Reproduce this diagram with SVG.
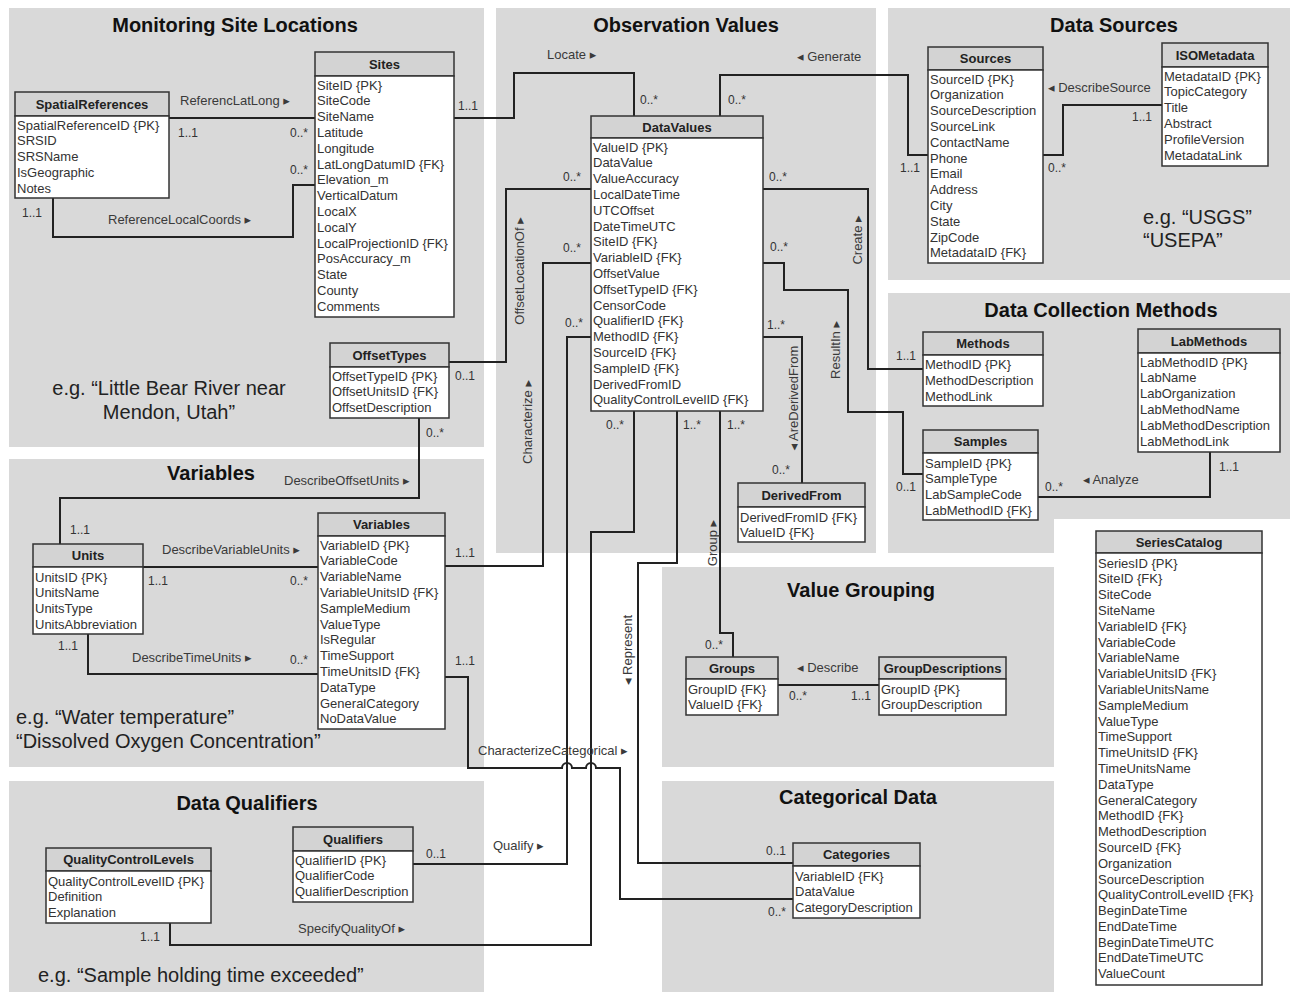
<svg xmlns="http://www.w3.org/2000/svg" width="1290" height="992" viewBox="0 0 1290 992">
<style>
.panel{fill:#d9d9d9}
.hd{fill:#d3d3d3;stroke:#333;stroke-width:1.5}
.bd{fill:#fff;stroke:#333;stroke-width:1.5}
.ht{font-family:'Liberation Sans','DejaVu Sans',Arial,sans-serif;font-weight:bold;font-size:13px;fill:#222;text-anchor:middle}
.at{font-family:'Liberation Sans','DejaVu Sans',Arial,sans-serif;font-size:13px;fill:#333}
.rl{font-family:'Liberation Sans','DejaVu Sans',Arial,sans-serif;font-size:13px;fill:#3a3a3a}
.rv{font-family:'Liberation Sans','DejaVu Sans',Arial,sans-serif;font-size:13px;fill:#3a3a3a;text-anchor:middle}
.m{font-family:'Liberation Sans','DejaVu Sans',Arial,sans-serif;font-size:12px;fill:#333}
.ttl{font-family:'Liberation Sans','DejaVu Sans',Arial,sans-serif;font-weight:bold;font-size:20px;fill:#111;text-anchor:middle}
.eg{font-family:'Liberation Sans','DejaVu Sans',Arial,sans-serif;font-size:20px;fill:#222}
.cn{fill:none;stroke:#222;stroke-width:2}
</style>
<rect width="1290" height="992" fill="#fff"/>
<g id="panels">
<rect class="panel" x="9" y="8" width="475" height="439"/>
<rect class="panel" x="496" y="8" width="380" height="545"/>
<rect class="panel" x="888" y="8" width="402" height="272"/>
<path class="panel" d="M888,293 H1290 V519 H1054 V553 H888 Z"/>
<rect class="panel" x="9" y="459" width="475" height="308"/>
<rect class="panel" x="662" y="567" width="392" height="200"/>
<rect class="panel" x="9" y="781" width="475" height="211"/>
<rect class="panel" x="662" y="781" width="392" height="211"/>
<text class="ttl" x="235" y="32">Monitoring Site Locations</text>
<text class="ttl" x="686" y="32">Observation Values</text>
<text class="ttl" x="1114" y="32">Data Sources</text>
<text class="ttl" x="1101" y="317">Data Collection Methods</text>
<text class="ttl" x="211" y="480">Variables</text>
<text class="ttl" x="861" y="597">Value Grouping</text>
<text class="ttl" x="247" y="810">Data Qualifiers</text>
<text class="ttl" x="858" y="804">Categorical Data</text>
<text class="eg" x="1143" y="224">e.g. “USGS”</text>
<text class="eg" x="1143" y="247">“USEPA”</text>
<text class="eg" x="169" y="395" text-anchor="middle">e.g. “Little Bear River near</text>
<text class="eg" x="169" y="419" text-anchor="middle">Mendon, Utah”</text>
<text class="eg" x="16" y="724">e.g. “Water temperature”</text>
<text class="eg" x="16" y="748">“Dissolved Oxygen Concentration”</text>
<text class="eg" x="38" y="982">e.g. “Sample holding time exceeded”</text>
</g>
<g id="connectors">
<path class="cn" d="M169,118 H315"/>
<path class="cn" d="M53,198 V237 H293 V185 H315"/>
<path class="cn" d="M454,118 H514 V73 H634 V116"/>
<path class="cn" d="M720,116 V75 H908 V155 H928"/>
<path class="cn" d="M1043,155 H1063 V105 H1162"/>
<path class="cn" d="M763,189 H868 V369 H923"/>
<path class="cn" d="M763,263 H784 V290 H848 V412 H903 V474 H923"/>
<path class="cn" d="M1038,497 H1210 V452"/>
<path class="cn" d="M449,362 H506 V189 H591"/>
<path class="cn" d="M591,263 H543 V566 H445"/>
<path class="cn" d="M419,418 V498 H60 V544"/>
<path class="cn" d="M143,567 H318"/>
<path class="cn" d="M88,634 V674 H318"/>
<path class="cn" d="M763,337 H802 V483"/>
<path class="cn" d="M720,411 V633 H733 V657"/>
<path class="cn" d="M778,685 H879"/>
<path class="cn" d="M677,411 V563 H638 V863 H793"/>
<path class="cn" d="M591,337 H567 V864 H413"/>
<path class="cn" d="M634,411 V532 H591 V945 H170 V923"/>
<path class="cn" d="M445,677 H468 V768 H562 A5,5 0 0 1 572,768 H586 A5,5 0 0 1 596,768 H620 V899 H793"/>
<text class="rl" x="180" y="104.5">ReferencLatLong ▸</text>
<text class="rl" x="108" y="223.5">ReferenceLocalCoords ▸</text>
<text class="rl" x="547" y="58.5">Locate ▸</text>
<text class="rl" x="797" y="60.5">◂ Generate</text>
<text class="rl" x="1048" y="91.5">◂ DescribeSource</text>
<text class="rl" x="1083" y="483.5">◂ Analyze</text>
<text class="rl" x="284" y="484.5">DescribeOffsetUnits ▸</text>
<text class="rl" x="162" y="553.5">DescribeVariableUnits ▸</text>
<text class="rl" x="132" y="661.5">DescribeTimeUnits ▸</text>
<text class="rl" x="797" y="671.5">◂ Describe</text>
<text class="rl" x="493" y="849.5">Qualify ▸</text>
<text class="rl" x="298" y="932.5">SpecifyQualityOf ▸</text>
<text class="rl" x="478" y="754.5">CharacterizeCategorical ▸</text>
<text class="rv" x="857" y="240" dy="0.35em" transform="rotate(-90 857 240)">Create ▸</text>
<text class="rv" x="835" y="350" dy="0.35em" transform="rotate(-90 835 350)">ResultIn ▸</text>
<text class="rv" x="519" y="271" dy="0.35em" transform="rotate(-90 519 271)">OffsetLocationOf ▸</text>
<text class="rv" x="527" y="422" dy="0.35em" transform="rotate(-90 527 422)">Characterize ▸</text>
<text class="rv" x="793" y="398" dy="0.35em" transform="rotate(-90 793 398)">◂ AreDerivedFrom</text>
<text class="rv" x="712" y="543" dy="0.35em" transform="rotate(-90 712 543)">Group ▸</text>
<text class="rv" x="627" y="650" dy="0.35em" transform="rotate(-90 627 650)">◂ Represent</text>
<text class="m" x="178" y="137">1..1</text>
<text class="m" x="290" y="137">0..*</text>
<text class="m" x="22" y="217">1..1</text>
<text class="m" x="290" y="174">0..*</text>
<text class="m" x="458" y="110">1..1</text>
<text class="m" x="640" y="104">0..*</text>
<text class="m" x="728" y="104">0..*</text>
<text class="m" x="900" y="172">1..1</text>
<text class="m" x="1048" y="172">0..*</text>
<text class="m" x="1132" y="121">1..1</text>
<text class="m" x="769" y="181">0..*</text>
<text class="m" x="896" y="360">1..1</text>
<text class="m" x="770" y="251">0..*</text>
<text class="m" x="896" y="491">0..1</text>
<text class="m" x="1045" y="491">0..*</text>
<text class="m" x="1219" y="471">1..1</text>
<text class="m" x="455" y="380">0..1</text>
<text class="m" x="563" y="181">0..*</text>
<text class="m" x="563" y="252">0..*</text>
<text class="m" x="455" y="557">1..1</text>
<text class="m" x="426" y="437">0..*</text>
<text class="m" x="70" y="534">1..1</text>
<text class="m" x="148" y="585">1..1</text>
<text class="m" x="290" y="585">0..*</text>
<text class="m" x="58" y="650">1..1</text>
<text class="m" x="290" y="664">0..*</text>
<text class="m" x="767" y="329">1..*</text>
<text class="m" x="772" y="474">0..*</text>
<text class="m" x="727" y="429">1..*</text>
<text class="m" x="705" y="649">0..*</text>
<text class="m" x="789" y="700">0..*</text>
<text class="m" x="851" y="700">1..1</text>
<text class="m" x="683" y="429">1..*</text>
<text class="m" x="766" y="855">0..1</text>
<text class="m" x="565" y="327">0..*</text>
<text class="m" x="426" y="858">0..1</text>
<text class="m" x="606" y="429">0..*</text>
<text class="m" x="140" y="941">1..1</text>
<text class="m" x="455" y="665">1..1</text>
<text class="m" x="768" y="916">0..*</text>
</g>
<g id="SpatialReferences">
<rect class="hd" x="15" y="92" width="154" height="24"/><rect class="bd" x="15" y="116" width="154" height="82"/>
<text class="ht" x="92" y="108.5">SpatialReferences</text>
<text class="at" x="17" y="129.5"><tspan x="17">SpatialReferenceID {PK}</tspan><tspan x="17" dy="15.8">SRSID</tspan><tspan x="17" dy="15.8">SRSName</tspan><tspan x="17" dy="15.8">IsGeographic</tspan><tspan x="17" dy="15.8">Notes</tspan></text>
</g>
<g id="Sites">
<rect class="hd" x="315" y="52" width="139" height="24"/><rect class="bd" x="315" y="76" width="139" height="241"/>
<text class="ht" x="384.5" y="68.5">Sites</text>
<text class="at" x="317" y="89.5"><tspan x="317">SiteID {PK}</tspan><tspan x="317" dy="15.8">SiteCode</tspan><tspan x="317" dy="15.8">SiteName</tspan><tspan x="317" dy="15.8">Latitude</tspan><tspan x="317" dy="15.8">Longitude</tspan><tspan x="317" dy="15.8">LatLongDatumID {FK}</tspan><tspan x="317" dy="15.8">Elevation_m</tspan><tspan x="317" dy="15.8">VerticalDatum</tspan><tspan x="317" dy="15.8">LocalX</tspan><tspan x="317" dy="15.8">LocalY</tspan><tspan x="317" dy="15.8">LocalProjectionID {FK}</tspan><tspan x="317" dy="15.8">PosAccuracy_m</tspan><tspan x="317" dy="15.8">State</tspan><tspan x="317" dy="15.8">County</tspan><tspan x="317" dy="15.8">Comments</tspan></text>
</g>
<g id="DataValues">
<rect class="hd" x="591" y="116" width="172" height="22"/><rect class="bd" x="591" y="138" width="172" height="273"/>
<text class="ht" x="677" y="131.5">DataValues</text>
<text class="at" x="593" y="151.5"><tspan x="593">ValueID {PK}</tspan><tspan x="593" dy="15.8">DataValue</tspan><tspan x="593" dy="15.8">ValueAccuracy</tspan><tspan x="593" dy="15.8">LocalDateTime</tspan><tspan x="593" dy="15.8">UTCOffset</tspan><tspan x="593" dy="15.8">DateTimeUTC</tspan><tspan x="593" dy="15.8">SiteID {FK}</tspan><tspan x="593" dy="15.8">VariableID {FK}</tspan><tspan x="593" dy="15.8">OffsetValue</tspan><tspan x="593" dy="15.8">OffsetTypeID {FK}</tspan><tspan x="593" dy="15.8">CensorCode</tspan><tspan x="593" dy="15.8">QualifierID {FK}</tspan><tspan x="593" dy="15.8">MethodID {FK}</tspan><tspan x="593" dy="15.8">SourceID {FK}</tspan><tspan x="593" dy="15.8">SampleID {FK}</tspan><tspan x="593" dy="15.8">DerivedFromID</tspan><tspan x="593" dy="15.8">QualityControlLevelID {FK}</tspan></text>
</g>
<g id="Sources">
<rect class="hd" x="928" y="47" width="115" height="23"/><rect class="bd" x="928" y="70" width="115" height="193"/>
<text class="ht" x="985.5" y="63">Sources</text>
<text class="at" x="930" y="83.5"><tspan x="930">SourceID {PK}</tspan><tspan x="930" dy="15.8">Organization</tspan><tspan x="930" dy="15.8">SourceDescription</tspan><tspan x="930" dy="15.8">SourceLink</tspan><tspan x="930" dy="15.8">ContactName</tspan><tspan x="930" dy="15.8">Phone</tspan><tspan x="930" dy="15.8">Email</tspan><tspan x="930" dy="15.8">Address</tspan><tspan x="930" dy="15.8">City</tspan><tspan x="930" dy="15.8">State</tspan><tspan x="930" dy="15.8">ZipCode</tspan><tspan x="930" dy="15.8">MetadataID {FK}</tspan></text>
</g>
<g id="ISOMetadata">
<rect class="hd" x="1162" y="43" width="106" height="24"/><rect class="bd" x="1162" y="67" width="106" height="99"/>
<text class="ht" x="1215" y="59.5">ISOMetadata</text>
<text class="at" x="1164" y="80.5"><tspan x="1164">MetadataID {PK}</tspan><tspan x="1164" dy="15.8">TopicCategory</tspan><tspan x="1164" dy="15.8">Title</tspan><tspan x="1164" dy="15.8">Abstract</tspan><tspan x="1164" dy="15.8">ProfileVersion</tspan><tspan x="1164" dy="15.8">MetadataLink</tspan></text>
</g>
<g id="Methods">
<rect class="hd" x="923" y="332" width="120" height="23"/><rect class="bd" x="923" y="355" width="120" height="51"/>
<text class="ht" x="983" y="348">Methods</text>
<text class="at" x="925" y="369"><tspan x="925">MethodID {PK}</tspan><tspan x="925" dy="15.8">MethodDescription</tspan><tspan x="925" dy="15.8">MethodLink</tspan></text>
</g>
<g id="LabMethods">
<rect class="hd" x="1138" y="329" width="142" height="24"/><rect class="bd" x="1138" y="353" width="142" height="99"/>
<text class="ht" x="1209" y="345.5">LabMethods</text>
<text class="at" x="1140" y="366.5"><tspan x="1140">LabMethodID {PK}</tspan><tspan x="1140" dy="15.8">LabName</tspan><tspan x="1140" dy="15.8">LabOrganization</tspan><tspan x="1140" dy="15.8">LabMethodName</tspan><tspan x="1140" dy="15.8">LabMethodDescription</tspan><tspan x="1140" dy="15.8">LabMethodLink</tspan></text>
</g>
<g id="Samples">
<rect class="hd" x="923" y="430" width="115" height="23"/><rect class="bd" x="923" y="453" width="115" height="67"/>
<text class="ht" x="980.5" y="446">Samples</text>
<text class="at" x="925" y="467.5"><tspan x="925">SampleID {PK}</tspan><tspan x="925" dy="15.8">SampleType</tspan><tspan x="925" dy="15.8">LabSampleCode</tspan><tspan x="925" dy="15.8">LabMethodID {FK}</tspan></text>
</g>
<g id="DerivedFrom">
<rect class="hd" x="738" y="483" width="127" height="24"/><rect class="bd" x="738" y="507" width="127" height="35"/>
<text class="ht" x="801.5" y="499.5">DerivedFrom</text>
<text class="at" x="740" y="521.5"><tspan x="740">DerivedFromID {FK}</tspan><tspan x="740" dy="15.8">ValueID {FK}</tspan></text>
</g>
<g id="OffsetTypes">
<rect class="hd" x="330" y="343" width="119" height="24"/><rect class="bd" x="330" y="367" width="119" height="51"/>
<text class="ht" x="389.5" y="359.5">OffsetTypes</text>
<text class="at" x="332" y="380.5"><tspan x="332">OffsetTypeID {PK}</tspan><tspan x="332" dy="15.8">OffsetUnitsID {FK}</tspan><tspan x="332" dy="15.8">OffsetDescription</tspan></text>
</g>
<g id="Units">
<rect class="hd" x="33" y="544" width="110" height="23"/><rect class="bd" x="33" y="567" width="110" height="67"/>
<text class="ht" x="88" y="560">Units</text>
<text class="at" x="35" y="581.5"><tspan x="35">UnitsID {PK}</tspan><tspan x="35" dy="15.8">UnitsName</tspan><tspan x="35" dy="15.8">UnitsType</tspan><tspan x="35" dy="15.8">UnitsAbbreviation</tspan></text>
</g>
<g id="Variables">
<rect class="hd" x="318" y="513" width="127" height="23"/><rect class="bd" x="318" y="536" width="127" height="193"/>
<text class="ht" x="381.5" y="529">Variables</text>
<text class="at" x="320" y="549.5"><tspan x="320">VariableID {PK}</tspan><tspan x="320" dy="15.8">VariableCode</tspan><tspan x="320" dy="15.8">VariableName</tspan><tspan x="320" dy="15.8">VariableUnitsID {FK}</tspan><tspan x="320" dy="15.8">SampleMedium</tspan><tspan x="320" dy="15.8">ValueType</tspan><tspan x="320" dy="15.8">IsRegular</tspan><tspan x="320" dy="15.8">TimeSupport</tspan><tspan x="320" dy="15.8">TimeUnitsID {FK}</tspan><tspan x="320" dy="15.8">DataType</tspan><tspan x="320" dy="15.8">GeneralCategory</tspan><tspan x="320" dy="15.8">NoDataValue</tspan></text>
</g>
<g id="Groups">
<rect class="hd" x="686" y="657" width="92" height="22"/><rect class="bd" x="686" y="679" width="92" height="36"/>
<text class="ht" x="732" y="672.5">Groups</text>
<text class="at" x="688" y="693.5"><tspan x="688">GroupID {FK}</tspan><tspan x="688" dy="15.8">ValueID {FK}</tspan></text>
</g>
<g id="GroupDescriptions">
<rect class="hd" x="879" y="657" width="127" height="22"/><rect class="bd" x="879" y="679" width="127" height="36"/>
<text class="ht" x="942.5" y="672.5">GroupDescriptions</text>
<text class="at" x="881" y="693.5"><tspan x="881">GroupID {PK}</tspan><tspan x="881" dy="15.8">GroupDescription</tspan></text>
</g>
<g id="Categories">
<rect class="hd" x="793" y="843" width="127" height="23"/><rect class="bd" x="793" y="866" width="127" height="52"/>
<text class="ht" x="856.5" y="859">Categories</text>
<text class="at" x="795" y="880.5"><tspan x="795">VariableID {FK}</tspan><tspan x="795" dy="15.8">DataValue</tspan><tspan x="795" dy="15.8">CategoryDescription</tspan></text>
</g>
<g id="Qualifiers">
<rect class="hd" x="293" y="827" width="120" height="24"/><rect class="bd" x="293" y="851" width="120" height="51"/>
<text class="ht" x="353" y="843.5">Qualifiers</text>
<text class="at" x="295" y="864.5"><tspan x="295">QualifierID {PK}</tspan><tspan x="295" dy="15.8">QualifierCode</tspan><tspan x="295" dy="15.8">QualifierDescription</tspan></text>
</g>
<g id="QualityControlLevels">
<rect class="hd" x="46" y="848" width="165" height="23"/><rect class="bd" x="46" y="871" width="165" height="52"/>
<text class="ht" x="128.5" y="864">QualityControlLevels</text>
<text class="at" x="48" y="885.5"><tspan x="48">QualityControlLevelID {PK}</tspan><tspan x="48" dy="15.8">Definition</tspan><tspan x="48" dy="15.8">Explanation</tspan></text>
</g>
<g id="SeriesCatalog">
<rect class="hd" x="1096" y="531" width="166" height="22"/><rect class="bd" x="1096" y="553" width="166" height="432"/>
<text class="ht" x="1179" y="546.5">SeriesCatalog</text>
<text class="at" x="1098" y="567.5"><tspan x="1098">SeriesID {PK}</tspan><tspan x="1098" dy="15.8">SiteID {FK}</tspan><tspan x="1098" dy="15.8">SiteCode</tspan><tspan x="1098" dy="15.8">SiteName</tspan><tspan x="1098" dy="15.8">VariableID {FK}</tspan><tspan x="1098" dy="15.8">VariableCode</tspan><tspan x="1098" dy="15.8">VariableName</tspan><tspan x="1098" dy="15.8">VariableUnitsID {FK}</tspan><tspan x="1098" dy="15.8">VariableUnitsName</tspan><tspan x="1098" dy="15.8">SampleMedium</tspan><tspan x="1098" dy="15.8">ValueType</tspan><tspan x="1098" dy="15.8">TimeSupport</tspan><tspan x="1098" dy="15.8">TimeUnitsID {FK}</tspan><tspan x="1098" dy="15.8">TimeUnitsName</tspan><tspan x="1098" dy="15.8">DataType</tspan><tspan x="1098" dy="15.8">GeneralCategory</tspan><tspan x="1098" dy="15.8">MethodID {FK}</tspan><tspan x="1098" dy="15.8">MethodDescription</tspan><tspan x="1098" dy="15.8">SourceID {FK}</tspan><tspan x="1098" dy="15.8">Organization</tspan><tspan x="1098" dy="15.8">SourceDescription</tspan><tspan x="1098" dy="15.8">QualityControlLevelID {FK}</tspan><tspan x="1098" dy="15.8">BeginDateTime</tspan><tspan x="1098" dy="15.8">EndDateTime</tspan><tspan x="1098" dy="15.8">BeginDateTimeUTC</tspan><tspan x="1098" dy="15.8">EndDateTimeUTC</tspan><tspan x="1098" dy="15.8">ValueCount</tspan></text>
</g>
</svg>
